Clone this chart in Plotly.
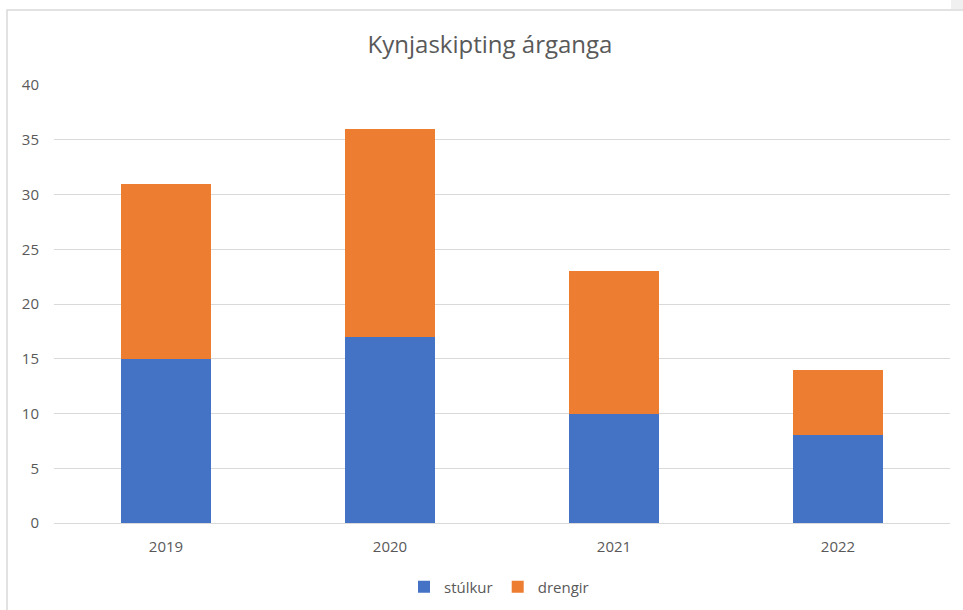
import plotly.graph_objects as go

years = ["2019", "2020", "2021", "2022"]
stulkur = [15, 17, 10, 8]
drengir = [16, 19, 13, 6]
y_ticks = [0, 5, 10, 15, 20, 25, 30, 35, 40]

FONT = "Open Sans, Liberation Sans, sans-serif"
GREY = "#595959"

fig = go.Figure()
fig.add_trace(go.Bar(name="stúlkur", x=years, y=stulkur, marker_color="#4472C4", marker_line_width=0))
fig.add_trace(go.Bar(name="drengir", x=years, y=drengir, marker_color="#ED7D31", marker_line_width=0))

L, R, T, B = 54, 13, 85, 87
W, H = 963, 610
pw, ph = W - L - R, H - T - B

def px(x):
    return (x - L) / pw

def py(y):
    return (H - B - y) / ph

fig.update_layout(
    width=W, height=H,
    barmode="stack", bargap=0.6,
    plot_bgcolor="white", paper_bgcolor="white",
    margin=dict(l=L, r=R, t=T, b=B, autoexpand=False),
    title=dict(text="Kynjaskipting árganga", xref="container", x=490 / W, xanchor="center",
               y=1 - 45 / H, yanchor="middle",
               font=dict(family=FONT, size=24, color=GREY)),
    font=dict(family=FONT, size=15, color=GREY),
    xaxis=dict(showgrid=False, showline=True, linecolor="#d9d9d9", linewidth=1, ticks="",
               ticklabelstandoff=10, tickfont=dict(size=15, color=GREY), automargin=False),
    yaxis=dict(range=[0, 40], tickvals=y_ticks, showgrid=True, gridcolor="#d9d9d9", gridwidth=1,
               zeroline=False, showline=False, ticks="", ticklabelstandoff=14,
               tickfont=dict(size=15, color=GREY), automargin=False),
    legend=dict(orientation="h", x=px(499), xanchor="center", y=py(587), yanchor="middle",
                font=dict(size=15, color=GREY), itemwidth=30, traceorder="normal"),
    showlegend=True,
    shapes=[
        dict(type="rect", xref="paper", yref="paper", x0=px(7), x1=px(975), y0=py(620), y1=py(10),
             line=dict(color="#d9d9d9", width=1.5), fillcolor="rgba(0,0,0,0)", layer="below"),
        dict(type="rect", xref="paper", yref="paper", x0=px(951), x1=px(970), y0=py(9), y1=py(-5),
             line=dict(width=0), fillcolor="#f0f0f0", layer="below"),
    ],
)

fig.write_html("out.html", config={"displayModeBar": False},
               post_script="document.body.style.margin='0';")
